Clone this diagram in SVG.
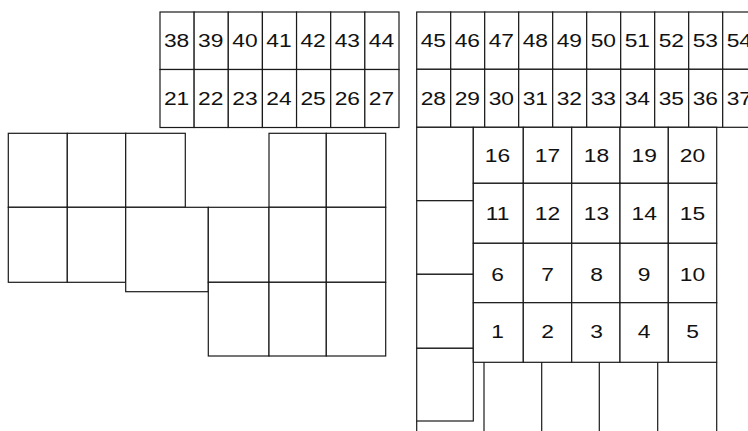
<svg xmlns="http://www.w3.org/2000/svg" width="748" height="431" viewBox="0 0 748 431">
<style>
rect{fill:#fff;stroke:#1a1a1a;stroke-width:1.2}
line{stroke:#1a1a1a;stroke-width:1.2}
text{font-family:"Liberation Sans",Arial,sans-serif;font-size:19px;fill:#111;text-anchor:middle}
</style>
<rect x="0" y="0" width="748" height="431" style="stroke:none"/>
<!-- top-left block -->
<g id="block-a">
<g id="n38"><rect x="160" y="12" width="34.14" height="57.5"/><text transform="translate(176.6 47.4) scale(1.2 1)">38</text></g>
<g id="n39"><rect x="194.14" y="12" width="34.14" height="57.5"/><text transform="translate(210.7 47.4) scale(1.2 1)">39</text></g>
<g id="n40"><rect x="228.28" y="12" width="34.14" height="57.5"/><text transform="translate(244.9 47.4) scale(1.2 1)">40</text></g>
<g id="n41"><rect x="262.42" y="12" width="34.14" height="57.5"/><text transform="translate(279.0 47.4) scale(1.2 1)">41</text></g>
<g id="n42"><rect x="296.56" y="12" width="34.14" height="57.5"/><text transform="translate(313.1 47.4) scale(1.2 1)">42</text></g>
<g id="n43"><rect x="330.7" y="12" width="34.14" height="57.5"/><text transform="translate(347.3 47.4) scale(1.2 1)">43</text></g>
<g id="n44"><rect x="364.84" y="12" width="34.16" height="57.5"/><text transform="translate(381.4 47.4) scale(1.2 1)">44</text></g>
<g id="n21"><rect x="160" y="69.5" width="34.14" height="58"/><text transform="translate(176.6 105.3) scale(1.2 1)">21</text></g>
<g id="n22"><rect x="194.14" y="69.5" width="34.14" height="58"/><text transform="translate(210.7 105.3) scale(1.2 1)">22</text></g>
<g id="n23"><rect x="228.28" y="69.5" width="34.14" height="58"/><text transform="translate(244.9 105.3) scale(1.2 1)">23</text></g>
<g id="n24"><rect x="262.42" y="69.5" width="34.14" height="58"/><text transform="translate(279.0 105.3) scale(1.2 1)">24</text></g>
<g id="n25"><rect x="296.56" y="69.5" width="34.14" height="58"/><text transform="translate(313.1 105.3) scale(1.2 1)">25</text></g>
<g id="n26"><rect x="330.7" y="69.5" width="34.14" height="58"/><text transform="translate(347.3 105.3) scale(1.2 1)">26</text></g>
<g id="n27"><rect x="364.84" y="69.5" width="34.16" height="58"/><text transform="translate(381.4 105.3) scale(1.2 1)">27</text></g>
</g>
<!-- top-right block -->
<g id="block-b">
<g id="n45"><rect x="416.7" y="12" width="34" height="57.3"/><text transform="translate(433.3 47.4) scale(1.2 1)">45</text></g>
<g id="n46"><rect x="450.7" y="12" width="34" height="57.3"/><text transform="translate(467.3 47.4) scale(1.2 1)">46</text></g>
<g id="n47"><rect x="484.7" y="12" width="34" height="57.3"/><text transform="translate(501.3 47.4) scale(1.2 1)">47</text></g>
<g id="n48"><rect x="518.7" y="12" width="34" height="57.3"/><text transform="translate(535.3 47.4) scale(1.2 1)">48</text></g>
<g id="n49"><rect x="552.7" y="12" width="34" height="57.3"/><text transform="translate(569.3 47.4) scale(1.2 1)">49</text></g>
<g id="n50"><rect x="586.7" y="12" width="34" height="57.3"/><text transform="translate(603.3 47.4) scale(1.2 1)">50</text></g>
<g id="n51"><rect x="620.7" y="12" width="34" height="57.3"/><text transform="translate(637.3 47.4) scale(1.2 1)">51</text></g>
<g id="n52"><rect x="654.7" y="12" width="34" height="57.3"/><text transform="translate(671.3 47.4) scale(1.2 1)">52</text></g>
<g id="n53"><rect x="688.7" y="12" width="34" height="57.3"/><text transform="translate(705.3 47.4) scale(1.2 1)">53</text></g>
<g id="n54"><rect x="722.7" y="12" width="34" height="57.3"/><text transform="translate(739.3 47.4) scale(1.2 1)">54</text></g>
<g id="n28"><rect x="416.7" y="69.3" width="34" height="58"/><text transform="translate(433.3 105.3) scale(1.2 1)">28</text></g>
<g id="n29"><rect x="450.7" y="69.3" width="34" height="58"/><text transform="translate(467.3 105.3) scale(1.2 1)">29</text></g>
<g id="n30"><rect x="484.7" y="69.3" width="34" height="58"/><text transform="translate(501.3 105.3) scale(1.2 1)">30</text></g>
<g id="n31"><rect x="518.7" y="69.3" width="34" height="58"/><text transform="translate(535.3 105.3) scale(1.2 1)">31</text></g>
<g id="n32"><rect x="552.7" y="69.3" width="34" height="58"/><text transform="translate(569.3 105.3) scale(1.2 1)">32</text></g>
<g id="n33"><rect x="586.7" y="69.3" width="34" height="58"/><text transform="translate(603.3 105.3) scale(1.2 1)">33</text></g>
<g id="n34"><rect x="620.7" y="69.3" width="34" height="58"/><text transform="translate(637.3 105.3) scale(1.2 1)">34</text></g>
<g id="n35"><rect x="654.7" y="69.3" width="34" height="58"/><text transform="translate(671.3 105.3) scale(1.2 1)">35</text></g>
<g id="n36"><rect x="688.7" y="69.3" width="34" height="58"/><text transform="translate(705.3 105.3) scale(1.2 1)">36</text></g>
<g id="n37"><rect x="722.7" y="69.3" width="34" height="58"/><text transform="translate(739.3 105.3) scale(1.2 1)">37</text></g>
</g>
<!-- left block of blank cells -->
<g id="block-c">
<g id="c1"><rect x="8.3" y="133.3" width="59" height="74"/></g>
<g id="c2"><rect x="67.3" y="133.3" width="58.4" height="74"/></g>
<g id="c3"><rect x="125.7" y="133.3" width="59.6" height="74"/></g>
<g id="c4"><rect x="269" y="133.3" width="57.3" height="74"/></g>
<g id="c5"><rect x="326.3" y="133.3" width="59.4" height="74"/></g>
<g id="c6"><rect x="8.3" y="207.3" width="59" height="75"/></g>
<g id="c7"><rect x="67.3" y="207.3" width="58.4" height="75"/></g>
<g id="c8"><rect x="125.7" y="207.3" width="82.6" height="84.4"/></g>
<g id="c9"><rect x="208.3" y="207.3" width="60.7" height="75"/></g>
<g id="c10"><rect x="269" y="207.3" width="57.3" height="75"/></g>
<g id="c11"><rect x="326.3" y="207.3" width="59.4" height="75"/></g>
<g id="c12"><rect x="208.3" y="282.3" width="60.7" height="73.7"/></g>
<g id="c13"><rect x="269" y="282.3" width="57.3" height="73.7"/></g>
<g id="c14"><rect x="326.3" y="282.3" width="59.4" height="73.7"/></g>
</g>
<!-- left strip of right section -->
<g id="block-d">
<g id="s1"><rect x="416.7" y="127.3" width="56.6" height="73.4"/></g>
<g id="s2"><rect x="416.7" y="200.7" width="56.6" height="73.6"/></g>
<g id="s3"><rect x="416.7" y="274.3" width="56.6" height="74"/></g>
<g id="s4"><rect x="416.7" y="348.3" width="56.6" height="72.7"/></g>
</g>
<!-- numbered grid -->
<g id="block-e">
<g id="n16"><rect x="473.3" y="127.3" width="50" height="56"/><text transform="translate(497.5 162.3) scale(1.2 1)">16</text></g>
<g id="n17"><rect x="523.3" y="127.3" width="48.4" height="56"/><text transform="translate(547.5 162.3) scale(1.2 1)">17</text></g>
<g id="n18"><rect x="571.7" y="127.3" width="48.3" height="56"/><text transform="translate(596.5 162.3) scale(1.2 1)">18</text></g>
<g id="n19"><rect x="620" y="127.3" width="48.3" height="56"/><text transform="translate(644.2 162.3) scale(1.2 1)">19</text></g>
<g id="n20"><rect x="668.3" y="127.3" width="48.4" height="56"/><text transform="translate(692.5 162.3) scale(1.2 1)">20</text></g>
<g id="n11"><rect x="473.3" y="183.3" width="50" height="60"/><text transform="translate(497.5 220.3) scale(1.2 1)">11</text></g>
<g id="n12"><rect x="523.3" y="183.3" width="48.4" height="60"/><text transform="translate(547.5 220.3) scale(1.2 1)">12</text></g>
<g id="n13"><rect x="571.7" y="183.3" width="48.3" height="60"/><text transform="translate(596.5 220.3) scale(1.2 1)">13</text></g>
<g id="n14"><rect x="620" y="183.3" width="48.3" height="60"/><text transform="translate(644.2 220.3) scale(1.2 1)">14</text></g>
<g id="n15"><rect x="668.3" y="183.3" width="48.4" height="60"/><text transform="translate(692.5 220.3) scale(1.2 1)">15</text></g>
<g id="n6"><rect x="473.3" y="243.3" width="50" height="59.4"/><text transform="translate(497.5 280.8) scale(1.2 1)">6</text></g>
<g id="n7"><rect x="523.3" y="243.3" width="48.4" height="59.4"/><text transform="translate(547.5 280.8) scale(1.2 1)">7</text></g>
<g id="n8"><rect x="571.7" y="243.3" width="48.3" height="59.4"/><text transform="translate(596.5 280.8) scale(1.2 1)">8</text></g>
<g id="n9"><rect x="620" y="243.3" width="48.3" height="59.4"/><text transform="translate(644.2 280.8) scale(1.2 1)">9</text></g>
<g id="n10"><rect x="668.3" y="243.3" width="48.4" height="59.4"/><text transform="translate(692.5 280.8) scale(1.2 1)">10</text></g>
<g id="n1"><rect x="473.3" y="302.7" width="50" height="59.6"/><text transform="translate(497.5 338) scale(1.2 1)">1</text></g>
<g id="n2"><rect x="523.3" y="302.7" width="48.4" height="59.6"/><text transform="translate(547.5 338) scale(1.2 1)">2</text></g>
<g id="n3"><rect x="571.7" y="302.7" width="48.3" height="59.6"/><text transform="translate(596.5 338) scale(1.2 1)">3</text></g>
<g id="n4"><rect x="620" y="302.7" width="48.3" height="59.6"/><text transform="translate(644.2 338) scale(1.2 1)">4</text></g>
<g id="n5"><rect x="668.3" y="302.7" width="48.4" height="59.6"/><text transform="translate(692.5 338) scale(1.2 1)">5</text></g>
</g>
<!-- bottom open cells (cut at page edge) -->
<g id="block-f">
<line x1="416.7" y1="421" x2="416.7" y2="431"/>
<line x1="484" y1="362.3" x2="484" y2="431"/>
<line x1="541.7" y1="362.3" x2="541.7" y2="431"/>
<line x1="599.3" y1="362.3" x2="599.3" y2="431"/>
<line x1="657.7" y1="362.3" x2="657.7" y2="431"/>
<line x1="716.7" y1="362.3" x2="716.7" y2="431"/>
</g>
</svg>
